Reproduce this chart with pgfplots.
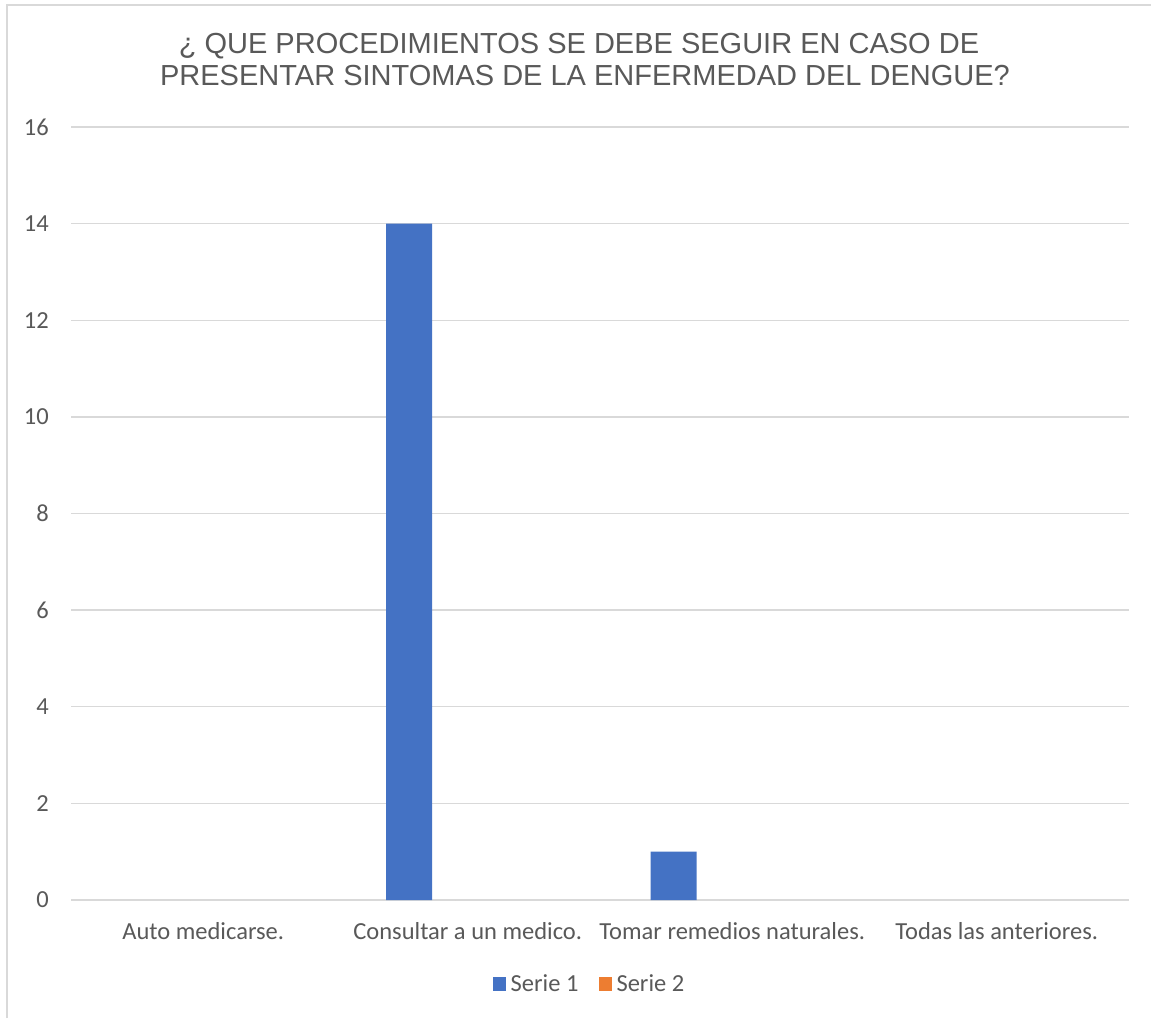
\documentclass[border=0pt]{standalone}
\usepackage{fontspec}
\setmainfont{Carlito}
\newfontfamily\titlefont{Liberation Sans}
\usepackage{pgfplots}
\pgfplotsset{compat=1.18}
\definecolor{cA}{HTML}{4472C4}
\definecolor{cB}{HTML}{ED7D31}
\definecolor{txt}{HTML}{595959}
\definecolor{gridc}{HTML}{D9D9D9}
\begin{document}
\begin{tikzpicture}
\useasboundingbox (0pt,0pt) rectangle (1151pt,1018pt);
\fill[white] (0pt,0pt) rectangle (1151pt,1018pt);
\draw[draw=gridc, line width=1.6pt] (7pt,0pt) -- (7pt,1013pt) -- (1151pt,1013pt);
\node[font=\titlefont\fontsize{29}{32}\selectfont, text=txt, anchor=base, inner sep=0pt] at (579pt,964pt) {¿ QUE PROCEDIMIENTOS SE DEBE SEGUIR EN CASO DE};
\node[font=\titlefont\fontsize{29}{32}\selectfont, text=txt, anchor=base, inner sep=0pt] at (585pt,932pt) {PRESENTAR SINTOMAS DE LA ENFERMEDAD DEL DENGUE?};
\begin{axis}[
  at={(71pt,118pt)}, anchor=south west,
  scale only axis, width=1058pt, height=773pt,
  xmin=-0.5, xmax=3.5, ymin=0, ymax=16,
  ytick={0,2,...,16},
  xtick={0,1,2,3},
  xticklabels={Auto medicarse.,Consultar a un medico.,Tomar remedios naturales.,Todas las anteriores.},
  ymajorgrids,
  major grid style={draw=gridc, line width=1.3pt},
  axis line style={draw=none},
  tick style={draw=none},
  major tick length=0pt,
  /pgf/number format/assume math mode=true,
  tick label style={font=\fontsize{24.5}{28}\selectfont, text=txt},
  yticklabel style={anchor=east, inner sep=0pt, xshift=-22pt},
  xticklabel style={anchor=north, inner sep=0pt, yshift=-22pt},
  legend style={at={(0.4915,-0.1087)}, anchor=center, draw=none, fill=none,
    legend columns=2, font=\fontsize{24.5}{28}\selectfont, text=txt,
    /tikz/every even column/.append style={column sep=15pt},
    inner sep=0pt, nodes={inner xsep=5pt, inner ysep=0pt}},
  legend image code/.code={\fill[#1] (0pt,-7pt) rectangle (13pt,7pt);},
  clip=false,
]
\addplot[ybar, bar width=46pt, bar shift=-58.5pt, fill=cA, draw=none,
  restrict y to domain=0.001:100]
  coordinates {(0,0) (1,14) (2,1) (3,0)};
\addlegendentry{Serie 1}
\addplot[ybar, bar width=0pt, bar shift=-12.5pt, fill=cB, draw=none]
  coordinates {(0,0) (1,0) (2,0) (3,0)};
\addlegendentry{Serie 2}
\end{axis}
\end{tikzpicture}
\end{document}
